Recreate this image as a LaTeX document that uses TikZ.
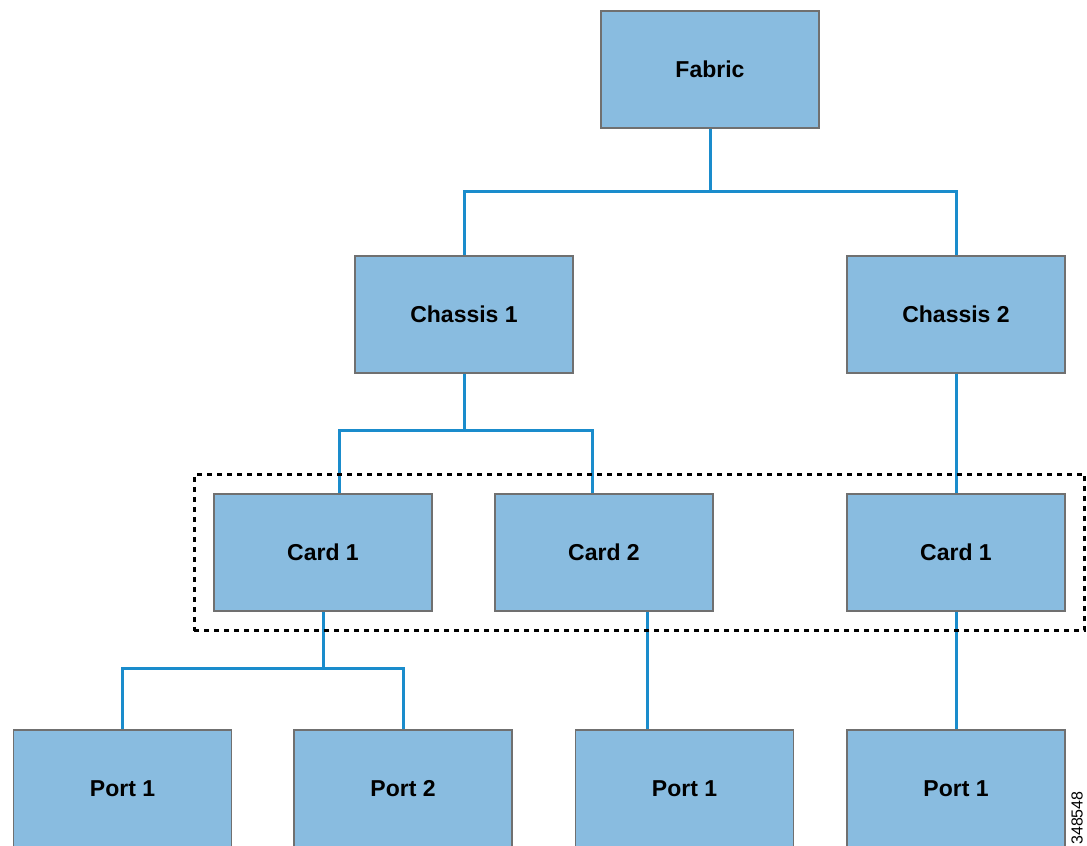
\documentclass[tikz,border=0pt]{standalone}
\usepackage{fontspec}
\setsansfont{Liberation Sans}
\usetikzlibrary{positioning,fit}
\definecolor{boxblue}{RGB}{137,188,224}
\definecolor{boxedge}{RGB}{112,112,112}
\definecolor{linkblue}{RGB}{26,140,204}
\tikzset{
  basic/.style  = {draw=boxedge, line width=0.75pt, fill=boxblue, rectangle,
                   minimum width=109pt, minimum height=58.5pt,
                   font=\sffamily\bfseries\fontsize{11.5}{13}\selectfont},
  root/.style   = {basic},
  level 2/.style = {basic},
  level 3/.style = {basic},
  level 4/.style = {basic},
  link/.style   = {draw=linkblue, line width=1.5pt},
  group/.style  = {draw=black, line width=1.7pt, dash pattern=on 2.6pt off 2.4pt,
                   inner sep=9.5pt}
}

\begin{document}
\begin{tikzpicture}[x=0.5pt, y=-0.5pt]
\useasboundingbox (0,0) rectangle (1087,846);

% root of the tree
    \node[root] (f) at (710,69.5) {Fabric};
% chassis level
    \node[level 2] (c1) at (464,314.5) {Chassis 1};
    \node[level 2] (c2) at (956,314.5) {Chassis 2};
% card level
    \begin{scope}[every node/.style={level 3}]
      \node (c11) at (323,552.5) {Card 1};
      \node (c12) at (604,552.5) {Card 2};
      \node (c21) at (956,552.5) {Card 1};
    \end{scope}
% port level
    \begin{scope}[every node/.style={level 4}]
      \node (c111) at (122.5,788.5) {Port 1};
      \node (c112) at (403,788.5) {Port 2};
      \node (c121) at (684.5,788.5) {Port 1};
      \node (c211) at (956,788.5) {Port 1};
    \end{scope}

% junctions of the branches
    \coordinate (j0) at (710,191);
    \coordinate (j1) at (464,430);
    \coordinate (j11) at (323,668);

% lines from each node to its children
    \draw[link] (f.south) -- (j0) -| (c1.north);
    \draw[link] (j0) -| (c2.north);
    \draw[link] (c1.south) -- (j1) -| ([xshift=8pt]c11.north);
    \draw[link] (j1) -| ([xshift=-6pt]c12.north);
    \draw[link] (c2.south) -- (c21.north);

    \draw[link] (c11.south) -- (j11);
    \foreach \value in {1,2}
    \draw[link] (j11) -| (c11\value.north);

    \draw[link] ([xshift=21.5pt]c12.south) -- ([xshift=21.5pt]c12.south |- c121.north);
    \draw[link] (c21.south) -- (c211.north);

% the cards are grouped
    \node[group, fit=(c11)(c12)(c21)] (cards) {};

    \node[rotate=90, font=\sffamily\fontsize{8}{9}\selectfont] (fig) at (1077,818) {348548};
\end{tikzpicture}
\end{document}
